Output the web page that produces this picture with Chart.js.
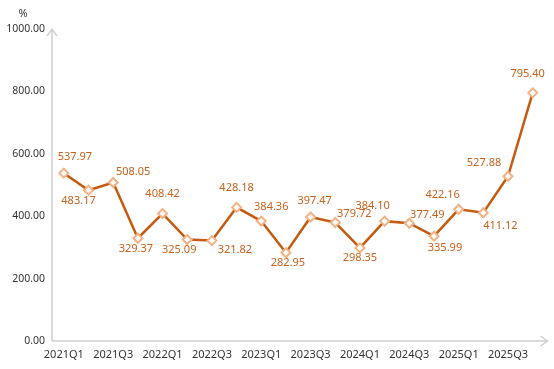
<!DOCTYPE html>
<html>
<head>
<meta charset="utf-8">
<script src="https://cdn.jsdelivr.net/npm/chart.js@4.4.1/dist/chart.umd.min.js"></script>
<style>
  html, body { margin: 0; padding: 0; background: #fff; }
  #wrap { width: 554px; height: 369px; }
</style>
</head>
<body>
<div id="wrap"><canvas id="chart1"></canvas></div>
<script>
var quarters = ["2021Q1", "2021Q2", "2021Q3", "2021Q4", "2022Q1", "2022Q2", "2022Q3", "2022Q4",
    "2023Q1", "2023Q2", "2023Q3", "2023Q4", "2024Q1", "2024Q2", "2024Q3", "2024Q4",
    "2025Q1", "2025Q2", "2025Q3", "2025Q4"];
var values = [537.97, 483.17, 508.05, 329.37, 408.42, 325.09, 321.82, 428.18,
    384.36, 282.95, 397.47, 379.72, 298.35, 384.10, 377.49, 335.99,
    422.16, 411.12, 527.88, 795.40];
var yTicks = [0, 200, 400, 600, 800, 1000];
var unitLabel = "%";

// where each value label sits relative to its point (dx, dy)
var labelOffsets = [[11, -16], [-10, 11], [20, -11], [-2, 11], [0, -20], [-8, 10], [23, 9], [0, -20],
    [10, -14], [2, 10], [4, -16], [19, -9], [0, 10], [-12, -15], [18, -8], [11, 12],
    [-16, -14], [17, 13], [-24, -13], [-5, -19]];

var FONT = '"Noto Sans", sans-serif';
var axisColor = '#d0d0d0';

var axisArrows = {
    id: 'axisArrows',
    beforeDatasetsDraw: function (chart) {
        var ctx = chart.ctx, a = chart.chartArea;
        ctx.save();
        ctx.strokeStyle = axisColor;
        ctx.lineWidth = 1.5;
        ctx.beginPath();
        ctx.moveTo(a.left, a.bottom); ctx.lineTo(a.left, a.top);
        ctx.moveTo(a.left - 5, a.top + 7); ctx.lineTo(a.left, a.top); ctx.lineTo(a.left + 5, a.top + 7);
        ctx.moveTo(a.left, a.bottom); ctx.lineTo(a.right, a.bottom);
        ctx.moveTo(a.right - 7, a.bottom - 5); ctx.lineTo(a.right, a.bottom); ctx.lineTo(a.right - 7, a.bottom + 5);
        ctx.stroke();
        ctx.fillStyle = '#333';
        ctx.font = '11px ' + FONT;
        ctx.textAlign = 'center';
        ctx.textBaseline = 'middle';
        ctx.fillText(unitLabel, 23, 14);
        ctx.restore();
    }
};

var valueLabels = {
    id: 'valueLabels',
    afterDatasetsDraw: function (chart) {
        var ctx = chart.ctx;
        var pts = chart.getDatasetMeta(0).data;
        ctx.save();
        ctx.fillStyle = '#c8601a';
        ctx.font = '11px ' + FONT;
        ctx.textAlign = 'center';
        ctx.textBaseline = 'middle';
        pts.forEach(function (p, i) {
            var o = labelOffsets[i];
            ctx.fillText(values[i].toFixed(2), p.x + o[0], p.y + o[1]);
        });
        ctx.restore();
    }
};

var ctx = document.getElementById('chart1').getContext('2d');
var myChart = new Chart(ctx, {
    type: 'line',
    data: {
        datasets: [{
            data: values.map(function (v, i) { return { x: i, y: v }; }),
            borderColor: '#c55a11',
            borderWidth: 2.5,
            pointStyle: 'rectRot',
            pointRadius: 4.5,
            pointBorderWidth: 2,
            pointBorderColor: '#f4b183',
            pointBackgroundColor: '#ffffff',
            tension: 0
        }]
    },
    options: {
        responsive: true,
        maintainAspectRatio: false,
        animation: false,
        layout: { padding: { top: 29, right: 4, left: 0, bottom: 0 } },
        plugins: { legend: { display: false }, tooltip: { enabled: false } },
        scales: {
            x: {
                type: 'linear',
                min: -0.48,
                max: 19.6,
                grid: { display: false, drawTicks: false },
                border: { display: false },
                afterBuildTicks: function (s) {
                    s.ticks = quarters.map(function (q, i) { return { value: i }; })
                        .filter(function (t) { return t.value % 2 === 0; });
                },
                afterFit: function (s) { s.height = 28; },
                ticks: {
                    autoSkip: false,
                    maxRotation: 0,
                    padding: 7,
                    color: '#333',
                    font: { family: FONT, size: 11 },
                    callback: function (v) { return quarters[v]; }
                }
            },
            y: {
                min: 0,
                max: 1000,
                grid: { display: false, drawTicks: false },
                border: { display: false },
                afterBuildTicks: function (s) {
                    s.ticks = yTicks.map(function (v) { return { value: v }; });
                },
                afterFit: function (s) { s.width = 52; },
                ticks: {
                    padding: 7,
                    color: '#333',
                    font: { family: FONT, size: 10.5 },
                    callback: function (v) { return v.toFixed(2); }
                }
            }
        }
    },
    plugins: [axisArrows, valueLabels]
});
</script>
</body>
</html>
